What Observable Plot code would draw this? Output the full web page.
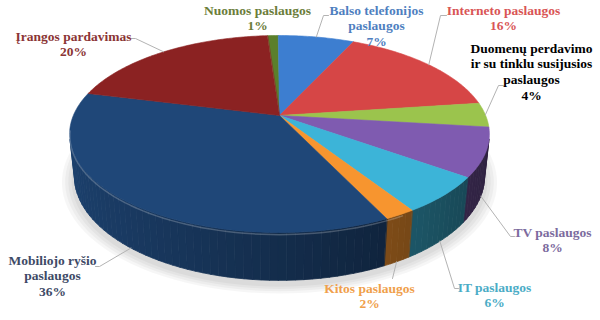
<!DOCTYPE html>
<html><head><meta charset="utf-8">
<script src="https://cdn.jsdelivr.net/npm/d3@7"></script>
<script src="https://cdn.jsdelivr.net/npm/@observablehq/plot@0.6"></script>
<style>body{margin:0;background:#fff}#chart svg{display:block}#chart svg text{font-family:"Liberation Serif","Times New Roman",serif !important}</style>
</head><body><div id="chart"></div>
<script>
// ---- data ----
const categories = ["Nuomos paslaugos","Balso telefonijos paslaugos","Interneto paslaugos","Duomenų perdavimo ir su tinklu susijusios paslaugos","TV paslaugos","IT paslaugos","Kitos paslaugos","Mobiliojo ryšio paslaugos","Įrangos pardavimas"];
const shares = [1,7,16,4,8,6,2,36,20];
const pctLabels = ["1%","7%","16%","4%","8%","6%","2%","36%","20%"];
const labelNames = ["Nuomos paslaugos","Balso telefonijos\npaslaugos","Interneto paslaugos","Duomenų perdavimo\nir su tinklu susijusios\npaslaugos","TV paslaugos","IT paslaugos","Kitos paslaugos","Mobiliojo ryšio\npaslaugos","Įrangos pardavimas"];

// ---- styles ----
const sliceColors = ["#5b7f2b","#3d7ed0","#d64646","#9bc44d","#7f5bb0","#3cb4d8","#f7952f","#1f4778","#8b2222"];
const labelColors = ["#6b7d3a","#4f7fbf","#d95555","#000000","#7c6b9e","#4bacc6","#f0a04b","#3e4a66","#8b3535"];
const fontStack = "'Liberation Serif', 'Times New Roman', serif";

// ---- layout ----
const startAngle = -4; // degrees, clockwise from the back (top)
const labelAnchor = [[257,10],[376,10],[503,10],[531,48],[552,232],[494,287],[369,288],[52,260],[73,36]];
const leaderElbows = [null,[[323,15],[328,15]],[[440,15],[446,15]],[[498,85],[503,85]],[[510,236],[514,236]],[[454,288],[458,288]],[[392,278]],[[99,266],[95,266]],[[135,38],[131,38]]];
const P = {cx:279, cy:115, f:973, D:4.72, c:0.887, s:0.461, h:0.233};

function proj(theta, z, r = 1) {
  const t = theta * Math.PI / 180;
  const X = r * Math.sin(t), Y = -r * Math.cos(t);
  const d = P.D - Y * P.c - z * P.s;
  return [P.cx + P.f * X / d, P.cy + P.f * (Y * P.s - z * P.c) / d];
}
function shade(col, k) {
  const c = d3.rgb(col);
  return d3.rgb(c.r * k, c.g * k, c.b * k).formatHex();
}

const total = d3.sum(shares);
let acc = startAngle;
const slices = shares.map((v, i) => {
  const a0 = acc, a1 = acc + v / total * 360; acc = a1;
  return {i, a0, a1, mid: (a0 + a1) / 2};
});

const visLim = Math.acos(-1 / (P.D * P.c)) * 180 / Math.PI;

// shadow
const shadowRows = [];
[1.06, 1.045, 1.03, 1.015].forEach((r, k) => {
  for (let a = 0; a <= 360; a += 3) {
    const [x, y] = proj(a, -P.h - 0.01, r);
    shadowRows.push({id: "s" + k, x, y: y + 2});
  }
});

// walls
const wallRows = [];
slices.forEach(sl => {
  const lo = Math.max(sl.a0, visLim), hi = Math.min(sl.a1, 360 - visLim);
  if (hi <= lo) return;
  const n = Math.ceil((hi - lo) / 2);
  for (let j = 0; j < n; j++) {
    const t0 = lo + (hi - lo) * j / n, t1 = lo + (hi - lo) * (j + 1) / n;
    const m = (t0 + t1) / 2;
    const k = 0.63 - 0.28 * Math.sin(m * Math.PI / 180);
    const color = shade(sliceColors[sl.i], k);
    const id = "w" + sl.i + "_" + j;
    const pts = [proj(t0, 0), proj(t1, 0), proj(t1, -P.h), proj(t0, -P.h)];
    pts.forEach(([x, y]) => wallRows.push({id, x, y, color}));
  }
});

// top faces
const topRows = [];
slices.forEach(sl => {
  const id = "t" + sl.i, color = sliceColors[sl.i];
  const [ax, ay] = proj(0, 0, 0);
  topRows.push({id, x: ax, y: ay, color});
  const n = Math.max(2, Math.ceil(sl.a1 - sl.a0));
  for (let j = 0; j <= n; j++) {
    const [x, y] = proj(sl.a0 + (sl.a1 - sl.a0) * j / n, 0);
    topRows.push({id, x, y, color});
  }
});

// front edge highlight
const edgeRows = [];
for (let a = 150; a <= 262; a += 2) { const [x, y] = proj(a, -0.01); edgeRows.push({x, y}); }

// leader lines
const leaderRows = [];
slices.forEach(sl => {
  const el = leaderElbows[sl.i];
  if (!el) return;
  const front = sl.mid > visLim && sl.mid < 360 - visLim;
  const [x0, y0] = proj(sl.mid, front ? -P.h : 0);
  leaderRows.push({id: "l" + sl.i, x: x0, y: y0});
  el.forEach(([x, y]) => leaderRows.push({id: "l" + sl.i, x, y}));
});

// labels
const labelRows = slices.map(sl => ({
  x: labelAnchor[sl.i][0], y: labelAnchor[sl.i][1],
  text: labelNames[sl.i] + "\n" + pctLabels[sl.i],
  color: labelColors[sl.i]
}));

const plot = Plot.plot({
  width: 600, height: 320, margin: 0,
  x: {domain: [0, 600], range: [0, 600], axis: null},
  y: {domain: [0, 320], range: [0, 320], axis: null},
  style: {background: "white", overflow: "visible", fontFamily: fontStack},
  marks: [
    Plot.line(shadowRows, {x: "x", y: "y", z: "id", fill: "#000", fillOpacity: 0.035, stroke: "none", curve: "linear-closed"}),
    Plot.line(wallRows, {x: "x", y: "y", z: "id", fill: "color", stroke: "color", strokeWidth: 0.8, curve: "linear-closed"}),
    Plot.line(topRows, {x: "x", y: "y", z: "id", fill: "color", stroke: "color", strokeWidth: 0.6, curve: "linear-closed"}),
    Plot.line(edgeRows, {x: "x", y: "y", stroke: "#ffffff", strokeOpacity: 0.22, strokeWidth: 1.5}),
    Plot.line(leaderRows, {x: "x", y: "y", z: "id", stroke: "#b3b3b3", strokeWidth: 1}),
    Plot.text(labelRows, {x: "x", y: "y", text: "text", fill: "color", fontFamily: fontStack, fontWeight: "bold", fontSize: 13.5, lineAnchor: "top", lineHeight: 1.16, dy: -7})
  ]
});
document.getElementById("chart").appendChild(plot);
</script>
</body></html>
